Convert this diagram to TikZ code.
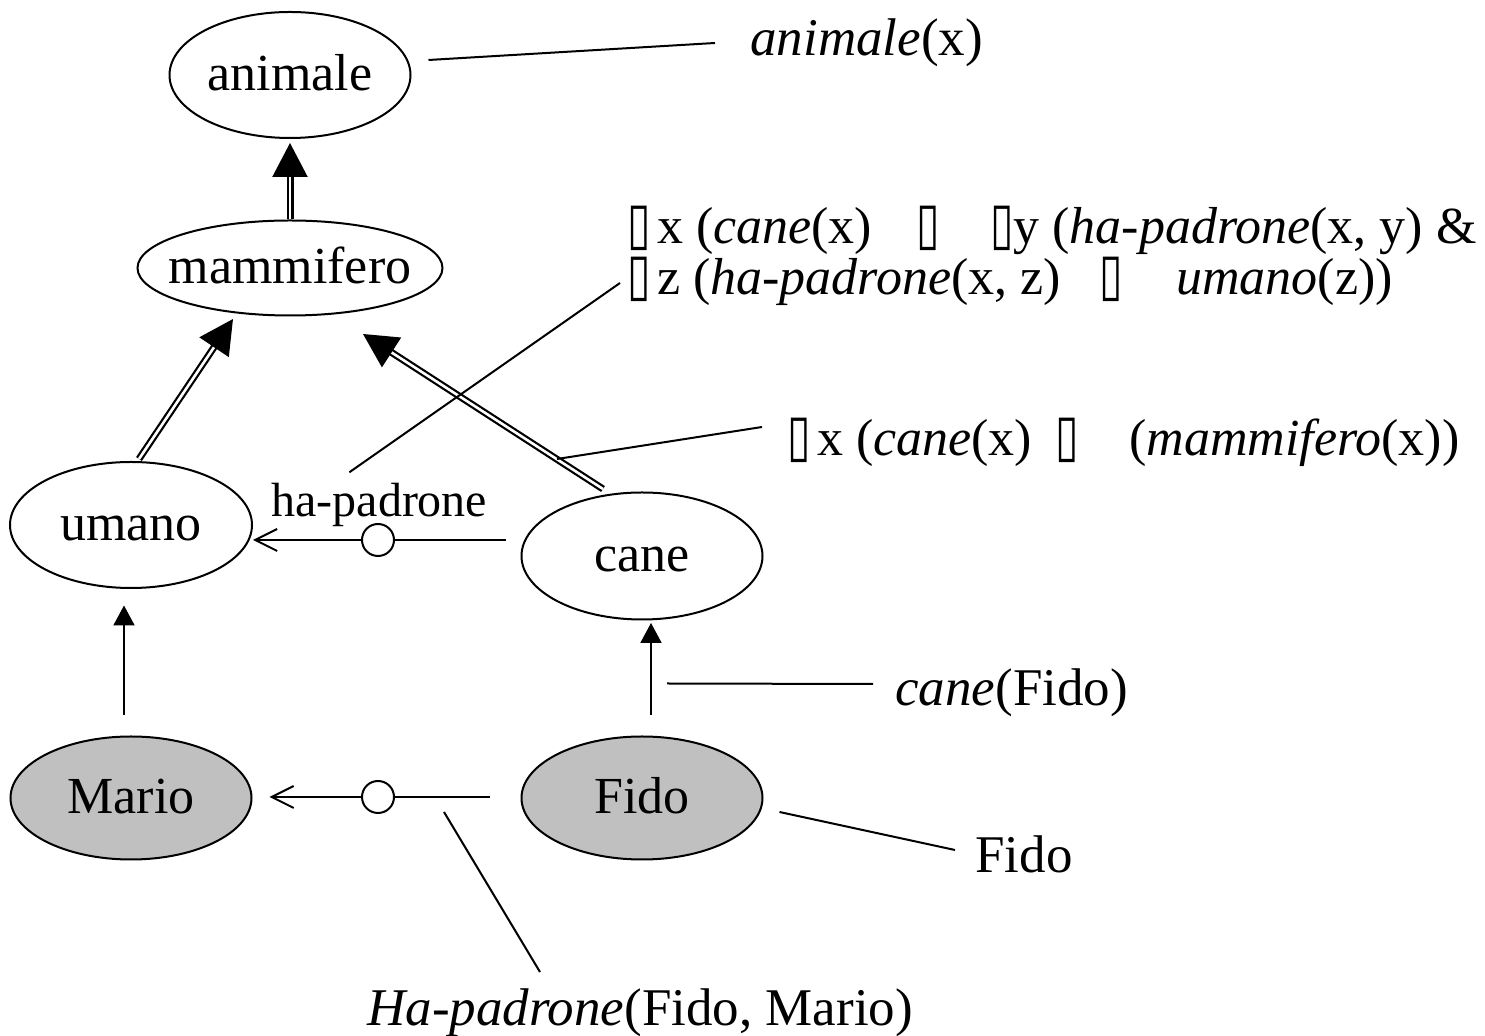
\documentclass[tikz,border=0pt]{standalone}
\usepackage{fontspec}
\setmainfont{Liberation Serif}
\newfontfamily\symfont{DejaVu Sans}
\usetikzlibrary{shapes.geometric,arrows.meta,calc}
\definecolor{instfill}{RGB}{192,192,192}
% placeholder glyph used in the formulas
\newcommand{\tofu}{\makebox[0.42em][l]{\raisebox{0pt}[0.66em][0pt]{\scalebox{0.82}[1.12]{\symfont ▯}}}}
\begin{document}
\begin{tikzpicture}[x=0.5pt,y=-0.5pt,
  txt/.style={font=\fontsize{26.5}{31}\selectfont, inner sep=0pt},
  ftxt/.style={font=\fontsize{26}{31}\selectfont, inner sep=0pt},
  concept/.style={ellipse, draw, line width=1pt, inner sep=0pt, fill=white,
    font=\fontsize{26}{31}\selectfont, text height=16pt, text depth=0pt},
  instance/.style={concept, fill=instfill},
  isa/.style={double, double distance=1.3pt, line width=1.1pt,
    -{Triangle[length=17pt,width=17.5pt]}},
  inst/.style={line width=1pt, -{Triangle[length=10pt,width=10.5pt]}},
  rel/.style={line width=1pt},
  relhead/.style={rel, -{Straight Barb[length=11pt,width=11pt,line width=1pt]}},
  relnode/.style={circle, draw, line width=1pt, minimum size=16pt, inner sep=0pt, fill=white},
  note/.style={line width=1pt}]
\useasboundingbox (0,0) rectangle (1485,1036);

% concept hierarchy
\node[concept, minimum width=120.5pt, minimum height=63pt] (animale) at (290,75) {animale};
\node[concept, inner xsep=-10pt, minimum width=152.5pt, minimum height=47.5pt] (mammifero) at (290,268) {mammifero};
\node[concept, minimum width=121pt, minimum height=63pt] (umano) at (131,525) {umano};
\node[concept, minimum width=120.5pt, minimum height=63.5pt] (cane) at (642,556) {cane};
\node[instance, minimum width=120.5pt, minimum height=61.5pt] (mario) at (131,798) {Mario};
\node[instance, minimum width=120.5pt, minimum height=61.5pt] (fido) at (642,798) {Fido};

% is-a links
\draw[isa, shorten >=2pt] (mammifero.north) -- (animale.south);
\draw[isa] ($(umano.north)+(8,-2)$) -- ($(mammifero.south)+(-57,2.5)$);
\draw[isa] ($(cane.north)+(-39,-2.5)$) -- ($(mammifero.south)+(73,17.5)$);

% instance-of links
\draw[inst] ($(mario.north)+(-7,-20.5)$) -- ($(umano.south)+(-7,16.5)$);
\draw[inst] ($(fido.north)+(9,-20.5)$) -- ($(cane.south)+(9,2.5)$);

% ha-padrone relations
\node[relnode] (hp1) at (378,540) {};
\draw[rel] ($(cane.west |- hp1)+(-15,0)$) -- (hp1);
\draw[relhead] (hp1) -- (hp1 -| umano.east);
\node[txt, font=\fontsize{24}{29}\selectfont, anchor=base west] (hplabel) at (271,517) {ha-padrone};

\node[relnode] (hp2) at (378,797) {};
\draw[rel] ($(fido.west)+(-31,-1)$) -- (hp2);
\draw[relhead] (hp2) -- ($(mario.east)+(17,-1)$);

% logical annotations
\node[txt, anchor=base west] (fanimale) at (750,56) {\textit{animale}(x)};
\node[ftxt, anchor=base west] (fpad1) at (627,244)
  {\tofu\hspace{0.15em}x (\textit{cane}(x)\hspace{0.85em}\tofu\hspace{1em}\tofu\hspace{0.03em}y (\textit{ha-padrone}(x, y) \&};
\node[ftxt, anchor=base west] (fpad2) at (627,295)
  {\tofu\hspace{0.15em}z (\textit{ha-padrone}(x, z)\hspace{0.75em}\tofu\hspace{1.05em}\textit{umano}(z))};
\node[ftxt, anchor=base west] (fisa) at (787,456)
  {\tofu\hspace{0.15em}x (\textit{cane}(x)\hspace{0.45em}\tofu\hspace{1em}(\textit{mammifero}(x))};
\node[txt, anchor=base west] (fcane) at (895,706) {\textit{cane}(Fido)};
\node[txt, anchor=base west] (ffido) at (975,873) {Fido};
\node[txt, anchor=base west] (frel) at (367,1026) {\textit{Ha-padrone}(Fido, Mario)};

% annotation pointers
\coordinate (p1) at (715,43);
\coordinate (p2) at (620,283);
\coordinate (p3) at (762,427);
\coordinate (p4) at (873,684);
\coordinate (p5) at (955,850);
\coordinate (p6) at (540,972);
\coordinate (q3) at (557,459);
\draw[note] ($(animale.east)+(17,-15)$) -- (p1);
\draw[note] ($(hplabel.north)+(-30,-11)$) -- (p2);
\draw[note] (q3) -- (p3);
\draw[note] ($(fido.north)+(25,-52)$) -- (p4);
\draw[note] ($(fido.east)+(16,14)$) -- (p5);
\draw[note] ($(hp2)+(66,15)$) -- (p6);
\end{tikzpicture}
\end{document}
